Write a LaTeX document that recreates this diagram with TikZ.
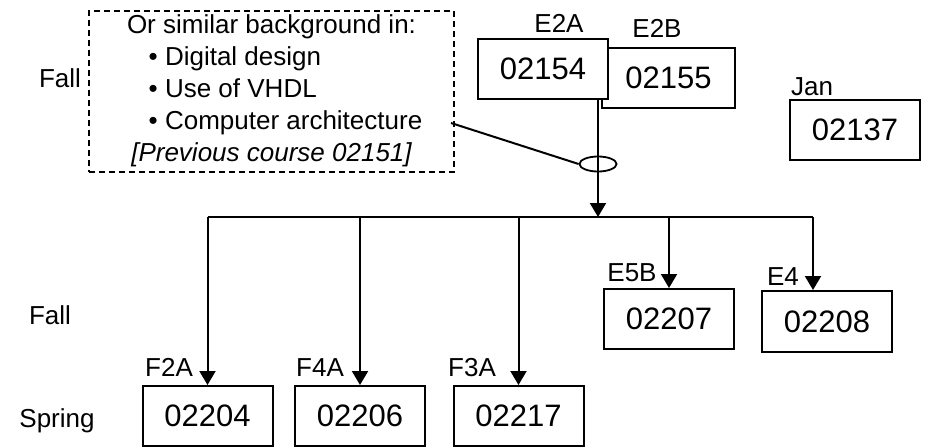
\documentclass[tikz,border=0pt]{standalone}
\usepackage{fontspec}
\setmainfont{Liberation Sans}
\usetikzlibrary{arrows.meta,shapes.geometric}

\begin{document}
\begin{tikzpicture}[x=1pt,y=-1pt,font=\fontsize{26}{32}\selectfont,line width=2pt]
      \tikzstyle{course}=[draw,fill=white,minimum width=130,minimum height=60,inner sep=0,font=\fontsize{31}{37}\selectfont]
      \tikzstyle{tag}=[anchor=base,inner sep=0]
      \tikzstyle{to course}=[-{Triangle[length=14,width=16]}]
      \useasboundingbox (0,0) rectangle (928,447);

      % semesters
      \node(fall1)[tag] at (60,87) {Fall};
      \node(fall2)[tag] at (50,324) {Fall};
      \node(spring)[tag] at (57,427) {Spring};

      % background
      \node(bg)[draw,dash pattern=on 6pt off 4pt,line width=1.8pt,minimum width=365,minimum height=161,inner sep=0] at (271.5,91.5) {};
      \node(bgtext)[inner sep=0] at (bg) {
        \begin{tabular}{@{}l@{}}
          \multicolumn{1}{@{}c@{}}{Or similar background in:} \\
          \hspace*{28pt}\textbullet\ Digital design \\
          \hspace*{28pt}\textbullet\ Use of VHDL \\
          \hspace*{28pt}\textbullet\ Computer architecture \\
          \multicolumn{1}{@{}c@{}}{\itshape [Previous course 02151]}
        \end{tabular}
      };

      % courses
      \node(e2b)[course,minimum width=133] at (668.5,78) {02155};
      \node(e2a)[course] at (543,69) {02154};
      \node(jan)[course] at (855,129.5) {02137};
      \node(c207)[course] at (669,319) {02207};
      \node(c208)[course,minimum height=61] at (827,321.5) {02208};
      \node(c204)[course] at (207.5,416) {02204};
      \node(c206)[course] at (360,416) {02206};
      \node(c217)[course] at (518.5,416) {02217};

      \node(l2a)[tag] at (559,32) {E2A};
      \node(l2b)[tag] at (657,37) {E2B};
      \node(ljan)[tag] at (812,95) {Jan};
      \node(l5b)[tag] at (632,281) {E5B};
      \node(l4)[tag] at (783,285) {E4};
      \node(lf2a)[tag] at (169,376) {F2A};
      \node(lf4a)[tag] at (320,376) {F4A};
      \node(lf3a)[tag] at (472,376) {F3A};

      % connections
      \coordinate(bus) at (598,217);
      \coordinate(busR) at (813,217);
      \coordinate(bgout) at (451,123);
      \node(sel)[draw,ellipse,line width=1.8pt,minimum width=37,minimum height=15,inner sep=0] at (598,164) {};

      \draw[to course] (e2a.south -| bus) -- (bus);
      \draw (bgout) -- (sel.west);
      \draw (c204.north |- bus) -- (busR);
      \draw[to course] (c204.north |- bus) -- (c204.north);
      \draw[to course] (c206.north |- bus) -- (c206.north);
      \draw[to course] (c217.north |- bus) -- (c217.north);
      \draw[to course] (c207.north |- bus) -- (c207.north);
      \draw[to course] (busR) -- (busR |- c208.north);
\end{tikzpicture}
\end{document}
